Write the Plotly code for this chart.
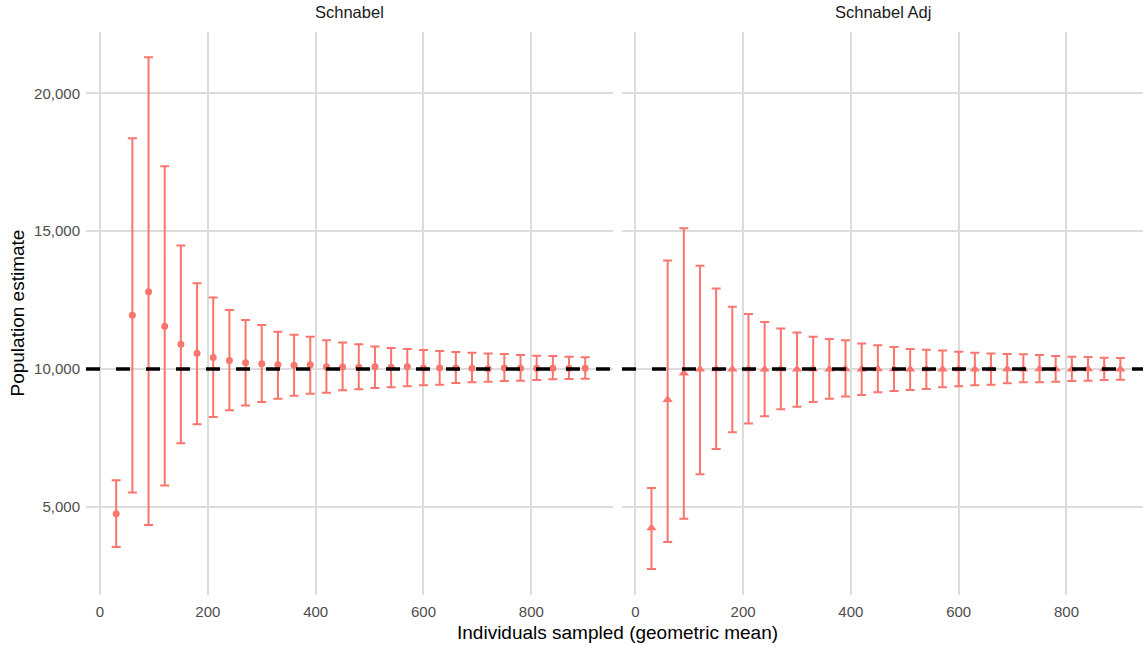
import plotly.graph_objects as go

# ---- data ----
sampled = [30, 60, 90, 120, 150, 180, 210, 240, 270, 300, 330, 360, 390, 420, 450,
           480, 510, 540, 570, 600, 630, 660, 690, 720, 750, 780, 810, 840, 870, 900]

schnabel_est = [4750, 11950, 12800, 11550, 10900, 10570, 10420, 10310, 10230, 10190,
                10150, 10140, 10150, 10080, 10070, 10060, 10080, 10060, 10080, 10040,
                10040, 10040, 10030, 10010, 10040, 10030, 10030, 10030, 10025, 10025]
schnabel_lo = [3540, 5520, 4340, 5770, 7310, 8000, 8260, 8500, 8680, 8800,
               8925, 9030, 9100, 9140, 9225, 9264, 9312, 9336, 9372, 9408,
               9432, 9493, 9517, 9541, 9565, 9577, 9601, 9626, 9638, 9649]
schnabel_hi = [5967, 18370, 21315, 17355, 14482, 13116, 12597, 12138, 11775, 11594,
               11353, 11244, 11171, 11039, 10966, 10900, 10821, 10761, 10725, 10688,
               10652, 10616, 10591, 10567, 10543, 10507, 10482, 10471, 10446, 10424]

adj_est = [4230, 8880, 9845, 9990, 10000, 9995, 10000, 9990, 10000, 9995,
           10000, 9995, 10000, 9990, 10000, 10000, 9995, 10000, 9995, 10000,
           9990, 10000, 10000, 9995, 10000, 10000, 9995, 10000, 10000, 9995]
adj_lo = [2743, 3721, 4565, 6185, 7101, 7706, 8019, 8285, 8539, 8635,
          8804, 8925, 8998, 9058, 9155, 9203, 9239, 9275, 9336, 9372,
          9408, 9432, 9481, 9517, 9517, 9541, 9565, 9577, 9601, 9613]
adj_hi = [5678, 13938, 15109, 13743, 12924, 12257, 11993, 11703, 11473, 11329,
          11171, 11087, 11039, 10930, 10858, 10800, 10730, 10700, 10676, 10628,
          10591, 10567, 10543, 10531, 10507, 10471, 10446, 10435, 10410, 10399]

true_n = 10000
panel_titles = ["Schnabel", "Schnabel Adj"]
x_title = "Individuals sampled (geometric mean)"
y_title = "Population estimate"

# ---- style ----
RED = "#F8766D"
GRID = "#dcdcdc"
FONT = "Liberation Sans, Arial, sans-serif"
TICKC = "#4d4d4d"

W, H = 1143, 645
ML, MR, MT, MB = 86, 0, 32, 50
PW = W - ML - MR

def frac(px):
    return (px - ML) / PW

fig = go.Figure()

def add_series(est, lo, hi, xa, ya, symbol, size):
    fig.add_trace(go.Scatter(
        x=sampled, y=est, mode="markers", xaxis=xa, yaxis=ya,
        marker=dict(color=RED, size=size, symbol=symbol, line=dict(width=0)),
        error_y=dict(type="data", symmetric=False,
                     array=[h - e for h, e in zip(hi, est)],
                     arrayminus=[e - l for e, l in zip(est, lo)],
                     color=RED, thickness=2, width=4.5),
        showlegend=False, hoverinfo="skip"))

add_series(schnabel_est, schnabel_lo, schnabel_hi, "x", "y", "circle", 7)
add_series(adj_est, adj_lo, adj_hi, "x2", "y2", "triangle-up", 9)

yrange = [1800, 22228]
axis_common = dict(showgrid=True, gridcolor=GRID, gridwidth=1.6, zeroline=False,
                   showline=False, ticks="", tickfont=dict(family=FONT, size=15, color=TICKC))

fig.update_layout(
    width=W, height=H,
    margin=dict(l=ML, r=MR, t=MT, b=MB),
    paper_bgcolor="white", plot_bgcolor="white",
    xaxis=dict(domain=[0, frac(612.7)], range=[-26, 951], tickvals=[0, 200, 400, 600, 800],
               anchor="y", ticklabelstandoff=6, **axis_common),
    xaxis2=dict(domain=[frac(622), 1], range=[-24.7, 942], tickvals=[0, 200, 400, 600, 800],
                anchor="y2", ticklabelstandoff=6, **axis_common),
    yaxis=dict(domain=[0, 1], range=yrange, tickvals=[5000, 10000, 15000, 20000],
               tickformat=",d", anchor="x", ticklabelstandoff=5, **axis_common),
    yaxis2=dict(domain=[0, 1], range=yrange, tickvals=[5000, 10000, 15000, 20000],
                anchor="x2", showticklabels=False, matches="y", **{k: v for k, v in axis_common.items() if k != "tickfont"}),
)

for xa in ["x", "x2"]:
    ya = "y" if xa == "x" else "y2"
    fig.add_shape(type="line", xref=f"{xa} domain", yref=ya, x0=0, x1=1,
                  y0=true_n, y1=true_n,
                  line=dict(color="black", width=3.3, dash="14px,16px"), layer="above")

# facet strip titles
for xa, t in zip(["x", "x2"], panel_titles):
    fig.add_annotation(text=t, xref=f"{xa} domain", yref="paper", x=0.5, y=1,
                       yanchor="middle", yshift=20, showarrow=False,
                       font=dict(family=FONT, size=16.5, color="#1a1a1a"))

fig.add_annotation(text=x_title, xref="paper", yref="paper", x=frac(617), y=0,
                   xanchor="center", yanchor="middle", yshift=-37, showarrow=False,
                   font=dict(family=FONT, size=19, color="black"))
fig.add_annotation(text=y_title, xref="paper", yref="paper", x=0, y=0.5,
                   xanchor="center", yanchor="middle", xshift=-69, textangle=-90,
                   showarrow=False, font=dict(family=FONT, size=19, color="black"))

fig.write_html("out.html")
